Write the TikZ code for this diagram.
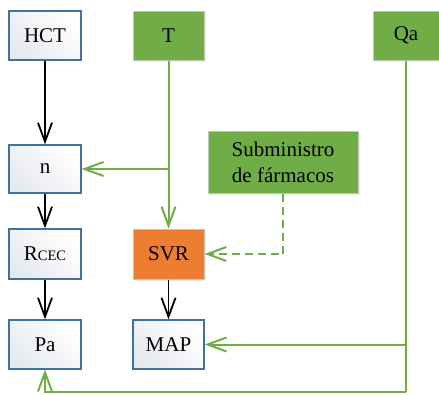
\documentclass[tikz,border=0pt]{standalone}
\usepackage{fontspec}
\setmainfont{Liberation Serif}
\usetikzlibrary{arrows.meta,shadows}
\definecolor{bbord}{HTML}{41719C}
\definecolor{bfill}{HTML}{E6E9EE}
\definecolor{gfill}{HTML}{70AD47}
\definecolor{gline}{HTML}{70AD47}
\definecolor{ofill}{HTML}{ED7D31}
\definecolor{gbord}{HTML}{BFC9B8}
\tikzset{
  base/.style={font=\fontsize{21}{26}\selectfont, inner sep=0pt, align=center, minimum height=49pt},
  bluebox/.style={base, draw=bbord, line width=1.3pt, top color=bfill, bottom color=white, shading angle=135, minimum width=72pt},
  greenbox/.style={base, draw=gbord, line width=1pt, fill=gfill, drop shadow={opacity=0.15, shadow xshift=1.5pt, shadow yshift=-1.5pt}},
  orangebox/.style={base, draw=gbord, line width=1pt, fill=ofill, drop shadow={opacity=0.15, shadow xshift=1.5pt, shadow yshift=-1.5pt}},
  tipv/.tip={Straight Barb[length=19pt,width=14pt]},
  blackarr/.style={draw=black, line width=1.8pt, -tipv},
  greenln/.style={draw=gline, line width=2pt},
  greenarr/.style={greenln, -tipv},
  greendash/.style={greenln, -tipv, dash pattern=on 8pt off 5pt},
}
\begin{document}
\begin{tikzpicture}[x=1pt,y=-1pt]
\useasboundingbox (0,0) rectangle (439,394);
\node[bluebox] (HCT) at (45,35.5) {HCT};
\node[greenbox, minimum width=71pt] (T) at (168.5,35.5) {T};
\node[greenbox, minimum width=66pt] (Qa) at (406,35.5) {Qa};
\node[bluebox, minimum height=48pt] (n) at (45,169) {n};
\node[greenbox, minimum width=150pt, minimum height=62pt] (Sub) at (283,162) {Subministro\\de fármacos};
\node[bluebox, minimum height=50pt] (R) at (45,254) {R{\fontsize{14.5}{15}\selectfont CEC}};
\node[orangebox, minimum width=71pt, minimum height=50pt] (SVR) at (168.5,254) {SVR};
\node[bluebox] (Pa) at (45,344.5) {Pa};
\node[bluebox, minimum width=71pt] (MAP) at (168.5,344.5) {MAP};
\coordinate (qbot) at (406,392);

\draw[blackarr] (HCT) -- (n);
\draw[blackarr] (n) -- (R);
\draw[blackarr] (R) -- (Pa);
\draw[blackarr] (SVR) -- (MAP);
\draw[greenarr] (T) -- (SVR);
\draw[greenarr] (T |- n.east) -- (n.east);
\draw[greendash] (Sub.south) |- (SVR.east);
\draw[greenln] (Qa.south) -- (qbot);
\draw[greenarr] (qbot) -| (Pa.south);
\draw[greenarr] (Qa |- MAP.east) -- (MAP.east);
\end{tikzpicture}
\end{document}
